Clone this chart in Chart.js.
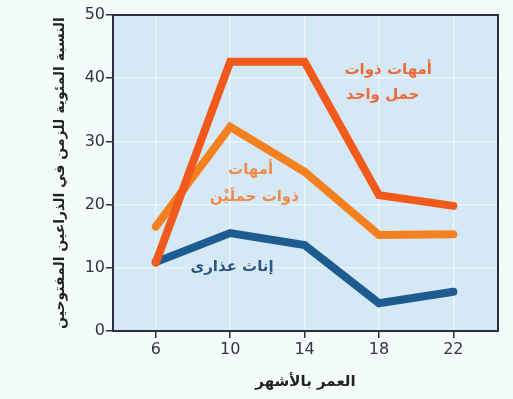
<!DOCTYPE html>
<html>
<head>
<meta charset="utf-8">
<script src="https://cdn.jsdelivr.net/npm/chart.js@4/dist/chart.umd.min.js"></script>
<style>
    html, body { margin: 0; padding: 0; background: #f4fbfb; }
    #wrap { width: 513px; height: 399px; }
</style>
</head>
<body>
<div id="wrap"><canvas id="chart" width="513" height="399"></canvas></div>
<script>
    "use strict";

    // ages in months
    const ages = [6, 10, 14, 18, 22];
    const singleBirth = [10.8, 42.6, 42.6, 21.5, 19.8];
    const twinBirth = [16.5, 32.3, 25.2, 15.2, 15.3];
    const virgins = [10.9, 15.5, 13.6, 4.4, 6.2];
    const yTicks = [0, 10, 20, 30, 40, 50];

    const xTitle = 'العمر بالأشهر';
    const yTitle = 'النسبة المئوية للزمن في الذراعين المفتوحين';

    // in-plot labels, placed in data units
    const notes = [
        {text: 'أمهات ذوات', x: 18.5, y: 41.3, color: '#ef6a3a'},
        {text: 'حمل واحد', x: 18.2, y: 37.3, color: '#ef6a3a'},
        {text: 'أمهات', x: 11.1, y: 25.5, color: '#f08a4a'},
        {text: 'ذوات حملَيْن', x: 11.3, y: 21.2, color: '#f08a4a'},
        {text: 'إناث عذارى', x: 10.1, y: 10.1, color: '#2b5683'},
    ];

    function pairs(values) {
        return values.map((v, i) => ({x: ages[i], y: v}));
    }

    const plotFrame = {
        id: 'plotFrame',
        beforeDraw(chart) {
            let a = chart.chartArea;
            let ctx = chart.ctx;
            ctx.save();
            ctx.fillStyle = '#d4e8f5';
            ctx.fillRect(a.left, a.top, a.right - a.left, a.bottom - a.top);
            ctx.restore();
        },
        afterDatasetsDraw(chart) {
            let a = chart.chartArea;
            let ctx = chart.ctx;
            let xs = chart.scales.x;
            let ys = chart.scales.y;
            ctx.save();
            ctx.strokeStyle = '#2e2e3c';
            ctx.lineWidth = 2;
            ctx.strokeRect(a.left, a.top, a.right - a.left, a.bottom - a.top);
            ctx.font = 'bold 15px "DejaVu Sans"';
            ctx.textAlign = 'center';
            ctx.textBaseline = 'middle';
            ctx.direction = 'rtl';
            for (let n of notes) {
                ctx.fillStyle = n.color;
                ctx.fillText(n.text, xs.getPixelForValue(n.x), ys.getPixelForValue(n.y));
            }
            ctx.restore();
        }
    };

    new Chart(document.getElementById('chart'), {
        type: 'line',
        data: {
            datasets: [
                {label: 'single', data: pairs(singleBirth), borderColor: '#f25a1c'},
                {label: 'twins', data: pairs(twinBirth), borderColor: '#f5801f'},
                {label: 'virgins', data: pairs(virgins), borderColor: '#1d5b91'},
            ]
        },
        options: {
            responsive: false,
            animation: false,
            layout: {padding: {left: 0, right: 15, top: 15, bottom: 4}},
            elements: {
                point: {radius: 0},
                line: {borderWidth: 8, borderCapStyle: 'round', borderJoinStyle: 'miter', tension: 0},
            },
            plugins: {
                legend: {display: false},
                tooltip: {enabled: false},
            },
            scales: {
                x: {
                    type: 'linear',
                    min: 3.7,
                    max: 24.4,
                    afterBuildTicks: (s) => { s.ticks = ages.map(v => ({value: v})); },
                    afterFit: (s) => { s.height = 64; },
                    grid: {color: 'rgba(255,255,255,0.55)', lineWidth: 1.5, tickColor: '#2e2e3c', tickLength: 7},
                    border: {display: false},
                    ticks: {color: '#34343f', font: {family: 'DejaVu Sans', size: 16}, padding: 2, maxRotation: 0},
                    title: {display: true, text: xTitle, color: '#222', font: {family: 'DejaVu Sans', size: 15, weight: 'bold'}, padding: {top: 8}},
                },
                y: {
                    min: 0,
                    max: 50,
                    afterBuildTicks: (s) => { s.ticks = yTicks.map(v => ({value: v})); },
                    afterFit: (s) => { s.width = 113; },
                    grid: {color: 'rgba(255,255,255,0.55)', lineWidth: 1.5, tickColor: '#2e2e3c', tickLength: 7},
                    border: {display: false},
                    ticks: {color: '#34343f', font: {family: 'DejaVu Sans', size: 16}, padding: 1},
                    title: {display: true, text: yTitle, color: '#222', font: {family: 'DejaVu Sans', size: 14, weight: 'bold'}, padding: {top: 52}},
                },
            },
        },
        plugins: [plotFrame],
    });
</script>
</body>
</html>
